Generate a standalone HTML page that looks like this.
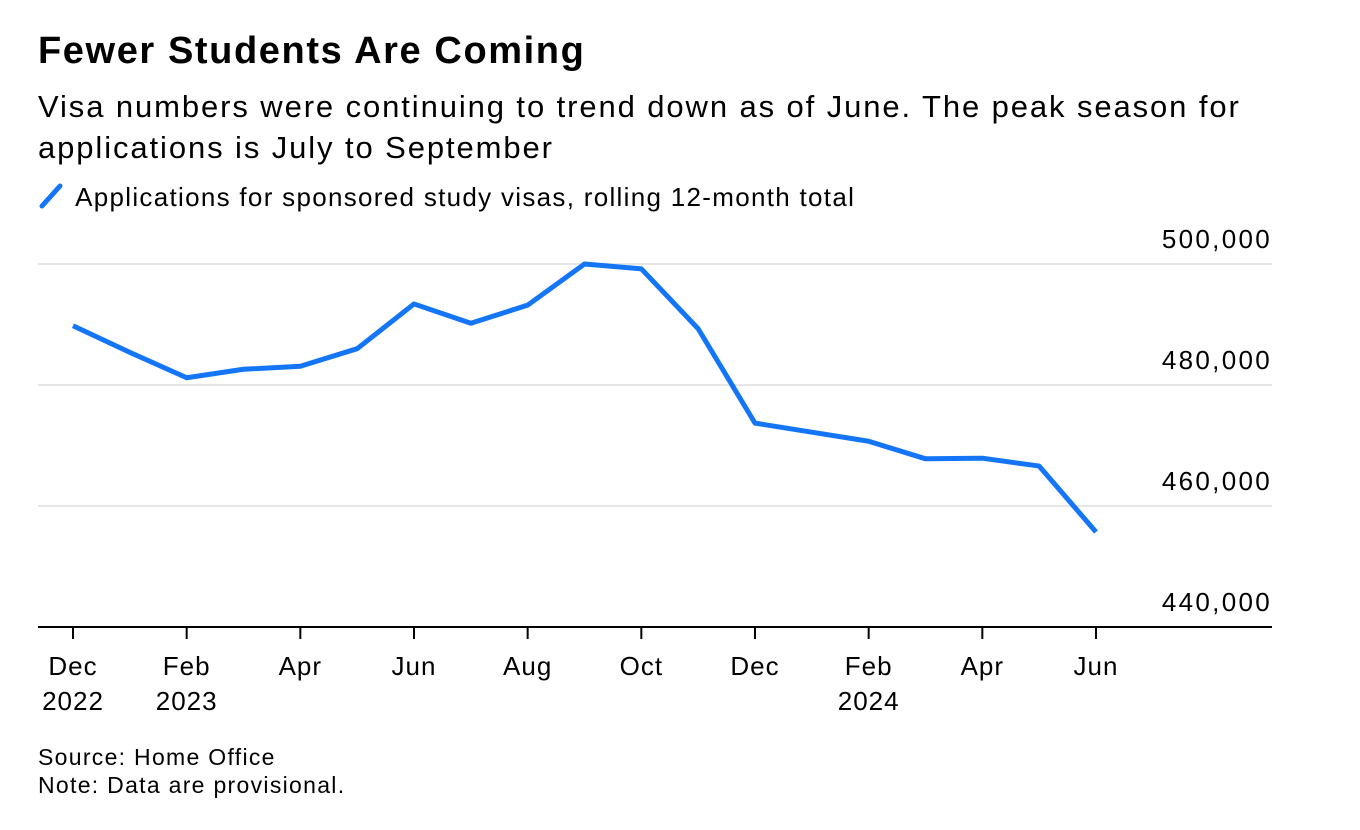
<!DOCTYPE html>
<html><head><meta charset="utf-8">
<style>
body{margin:0;width:1360px;height:830px;background:#fff;font-family:"Liberation Sans",sans-serif;color:#000;overflow:hidden;position:relative}
.t{position:absolute;left:38px;white-space:nowrap}
</style></head><body>
<div class="t" style="top:30px;font-size:38px;font-weight:bold;letter-spacing:1.6px">Fewer Students Are Coming</div>
<div class="t" style="top:86px;font-size:31px;line-height:41px;letter-spacing:1.9px">Visa numbers were continuing to trend down as of June. The peak season for<br>applications is July to September</div>
<div style="position:absolute;left:38px;top:182px;font-size:26px;letter-spacing:1.3px;white-space:nowrap"><svg width="30" height="30" style="vertical-align:-6px"><line x1="4" y1="24" x2="22" y2="4" stroke="#1476f7" stroke-width="5" stroke-linecap="round"/></svg> Applications for sponsored study visas, rolling 12-month total</div>
<svg id="chart" width="1360" height="830" style="position:absolute;left:0;top:0"></svg>
<div class="t" style="top:743px;font-size:23px;line-height:28px;letter-spacing:1.3px">Source: Home Office<br>Note: Data are provisional.</div>
<script>
const months=["Dec 2022","Jan","Feb 2023","Mar","Apr","May","Jun","Jul","Aug","Sep","Oct","Nov","Dec","Jan 2024","Feb 2024","Mar","Apr","May","Jun"];
const values=[489800,485400,481200,482600,483100,486000,493400,490200,493200,500000,499200,489300,473700,472200,470700,467800,467900,466600,455700];
const yTicks=[440000,460000,480000,500000];
const yTickLabels=["440,000","460,000","480,000","500,000"];
const xTickIdx=[0,2,4,6,8,10,12,14,16,18];
const xTickLabels=[["Dec","2022"],["Feb","2023"],["Apr"],["Jun"],["Aug"],["Oct"],["Dec"],["Feb","2024"],["Apr"],["Jun"]];
const NS="http://www.w3.org/2000/svg",svg=document.getElementById('chart');
const x=i=>73+i*(1096-73)/18;
const y=v=>627-(v-440000)*121/20000;
function mk(t,a){const e=document.createElementNS(NS,t);for(const k in a)e.setAttribute(k,a[k]);svg.appendChild(e);return e;}
yTicks.forEach((v,i)=>{
  if(v>440000){const g=mk('line',{x1:38,x2:1272,y1:y(v),y2:y(v),stroke:'#e6e6e6','stroke-width':2});
  
  }
  const t=mk('text',{x:1272,y:y(v)-16,'text-anchor':'end','font-size':26,'letter-spacing':2.3,'font-family':'Liberation Sans, sans-serif'});
  t.textContent=yTickLabels[i];
  
  
});
const ax=mk('line',{x1:38,x2:1272,y1:627,y2:627,stroke:'#000','stroke-width':2});


xTickIdx.forEach((m,i)=>{
  const tk=mk('line',{x1:x(m),x2:x(m),y1:627,y2:639,stroke:'#000','stroke-width':2});
  
  
  xTickLabels[i].forEach((s,j)=>{
    const t=mk('text',{x:x(m),y:675+j*35,'text-anchor':'middle','font-size':26,'letter-spacing':1,'font-family':'Liberation Sans, sans-serif'});
    t.textContent=s;
    
    
  });
});
const p=mk('polyline',{points:values.map((v,i)=>x(i)+','+y(v)).join(' '),fill:'none',stroke:'#1476f7','stroke-width':5,'stroke-linejoin':'round'});


</script>
</body></html>
